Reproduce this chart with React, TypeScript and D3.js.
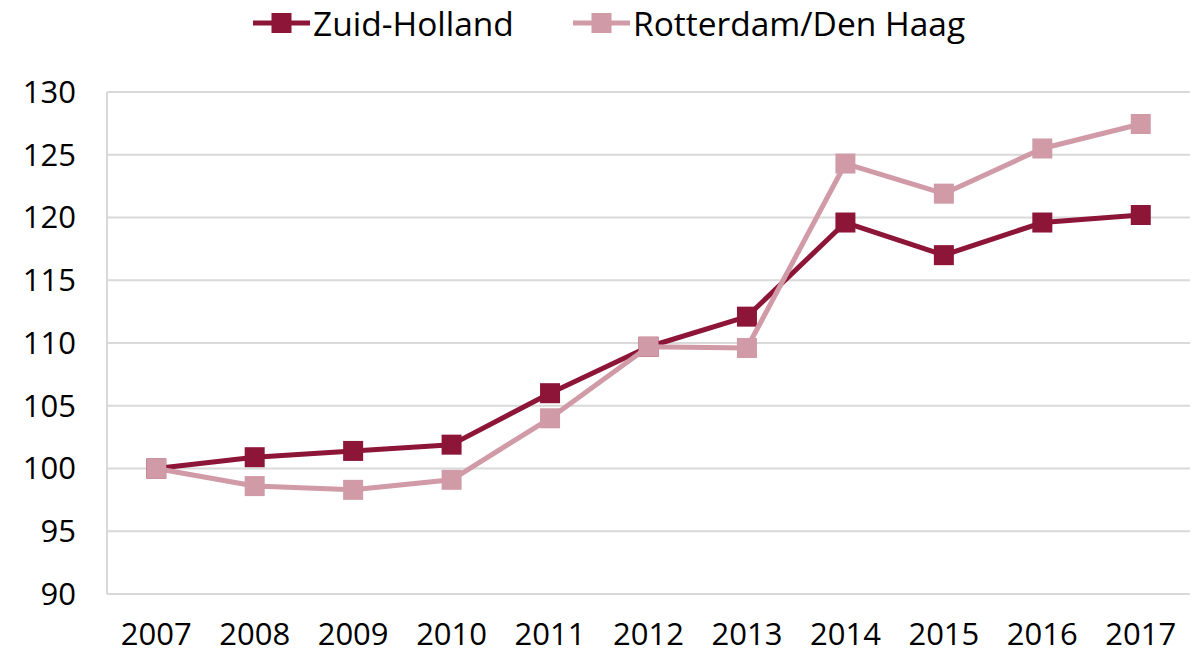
import React from 'react'
import * as d3 from 'd3'

const years = ['2007', '2008', '2009', '2010', '2011', '2012', '2013', '2014', '2015', '2016', '2017']
const zuidHolland = [100, 100.9, 101.4, 101.9, 106.0, 109.7, 112.1, 119.6, 117.0, 119.6, 120.2]
const rotterdamDenHaag = [100, 98.6, 98.3, 99.1, 104.0, 109.7, 109.6, 124.3, 121.9, 125.5, 127.45]
const yTicks = [90, 95, 100, 105, 110, 115, 120, 125, 130]

const series = [
  { name: 'Zuid-Holland', values: zuidHolland, color: '#8c1538' },
  { name: 'Rotterdam/Den Haag', values: rotterdamDenHaag, color: '#d09aa7' }
]

const W = 1197
const H = 654
const margin = { top: 92, right: 7, bottom: 60, left: 107 }
const font = '"Open Sans", "Noto Sans", sans-serif'

export default function App() {
  const x = d3.scaleBand<string>()
    .domain(years)
    .range([margin.left, W - margin.right])
  const y = d3.scaleLinear()
    .domain([90, 130])
    .range([H - margin.bottom, margin.top])

  const line = d3.line<number>()
    .x((d, i) => (x(years[i]) as number) + x.bandwidth() / 2)
    .y(d => y(d))

  const legendX = [253, 573]
  const sq = 20

  return (
    <svg width={W} height={H} style={{ position: 'absolute', left: 0, top: 0, background: '#fff' }}>
      {/* grid + y labels */}
      {yTicks.map(t => (
        <g key={t}>
          {t !== 90 && (
            <line x1={margin.left} x2={W - margin.right} y1={y(t)} y2={y(t)} stroke="#d9d9d9" strokeWidth={2} />
          )}
          <text x={76} y={y(t)} dy="0.35em" textAnchor="end" fontFamily={font} fontSize={31} fill="#000">
            {t}
          </text>
        </g>
      ))}
      <line x1={margin.left} x2={margin.left} y1={y(130)} y2={y(90)} stroke="#d9d9d9" strokeWidth={2} />
      <line x1={margin.left} x2={W - margin.right} y1={y(90)} y2={y(90)} stroke="#d9d9d9" strokeWidth={2} />

      {years.map(yr => (
        <text key={yr} x={(x(yr) as number) + x.bandwidth() / 2} y={H - 9} textAnchor="middle"
          fontFamily={font} fontSize={31} fill="#000">
          {yr}
        </text>
      ))}

      {series.map(s => (
        <g key={s.name}>
          <path d={line(s.values) || ''} fill="none" stroke={s.color} strokeWidth={5} strokeLinejoin="round" />
          {s.values.map((v, i) => (
            <rect key={i}
              x={(x(years[i]) as number) + x.bandwidth() / 2 - sq / 2}
              y={y(v) - sq / 2}
              width={sq} height={sq} fill={s.color} />
          ))}
        </g>
      ))}

      {/* legend */}
      {series.map((s, i) => (
        <g key={s.name} transform={`translate(${legendX[i]},23)`}>
          <line x1={0} x2={57} y1={0} y2={0} stroke={s.color} strokeWidth={5} />
          <rect x={28.5 - sq / 2} y={-sq / 2} width={sq} height={sq} fill={s.color} />
          <text x={60} y={13} fontFamily={font} fontSize={33.5} fill="#000">
            {s.name}
          </text>
        </g>
      ))}
    </svg>
  )
}
